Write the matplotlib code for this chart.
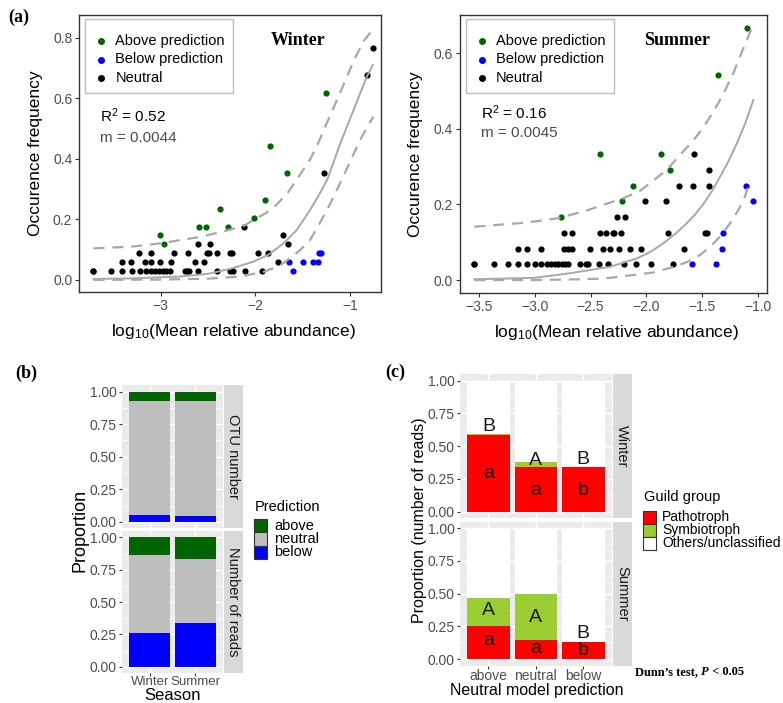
import numpy as np
import matplotlib.pyplot as plt
from matplotlib.patches import Rectangle

plt.rcParams['font.family'] = ['Liberation Sans', 'DejaVu Sans']
plt.rcParams['mathtext.fontset'] = 'custom'
plt.rcParams['mathtext.rm'] = 'Liberation Sans'
plt.rcParams['mathtext.it'] = 'Liberation Sans:italic'
plt.rcParams['mathtext.bf'] = 'Liberation Sans:bold'

# ---------------- data: panel (a), winter ----------------
w_neutral_x = [-3.713, -3.713, -3.529, -3.406, -3.307, -3.219, -3.155, -3.102, -3.060, -3.018,
               -2.979, -2.944, -2.901, -2.743, -2.718, -2.697, -2.601, -2.407, -2.266, -2.238,
               -2.108, -1.931,
               -3.413, -3.314, -3.166, -3.106, -3.007, -2.891, -2.637, -2.541, -1.755,
               -3.229, -3.106, -2.855, -2.707, -2.513, -2.489, -2.400, -2.266, -2.249, -1.966, -1.861,
               -2.601, -2.478, -1.656,
               -1.702, -2.118, -1.272, -0.820, -0.757]
w_neutral_y = [0.029] * 22 + [0.059] * 9 + [0.088] * 11 + [0.118] * 3 + \
              [0.147, 0.176, 0.353, 0.676, 0.765]
w_above_x = [-2.961, -3.007, -2.591, -2.524, -2.291, -2.009, -2.372, -1.892, -1.667, -1.843, -1.254]
w_above_y = [0.118, 0.147, 0.176, 0.176, 0.176, 0.206, 0.235, 0.265, 0.353, 0.441, 0.618]
w_below_x = [-1.596, -1.638, -1.490, -1.384, -1.332, -1.321, -1.307]
w_below_y = [0.029, 0.059, 0.059, 0.059, 0.059, 0.088, 0.088]

w_fit_x = [-3.71, -3.3, -2.8, -2.5, -2.27, -2.02, -1.86, -1.70, -1.56, -1.42, -1.33, -1.24,
           -1.17, -1.10, -1.03, -0.96, -0.89, -0.82, -0.757]
w_fit_y = [0.003, 0.005, 0.011, 0.020, 0.036, 0.060, 0.083, 0.121, 0.165, 0.231, 0.278, 0.330,
           0.390, 0.451, 0.507, 0.561, 0.617, 0.671, 0.710]
w_up_x = [-3.71, -3.3, -3.0, -2.58, -2.3, -2.11, -2.01, -1.90, -1.80, -1.65, -1.50, -1.42,
          -1.35, -1.24, -1.17, -1.10, -0.95, -0.85, -0.75]
w_up_y = [0.104, 0.110, 0.121, 0.142, 0.163, 0.180, 0.200, 0.218, 0.240, 0.290, 0.360, 0.398,
          0.440, 0.520, 0.570, 0.620, 0.730, 0.790, 0.830]
w_lo_x = [-3.71, -3.0, -2.5, -2.16, -1.91, -1.75, -1.63, -1.52, -1.42, -1.33, -1.24, -1.15,
          -1.07, -0.98, -0.89, -0.82, -0.75]
w_lo_y = [0.000, 0.001, 0.004, 0.011, 0.027, 0.045, 0.072, 0.100, 0.132, 0.180, 0.231, 0.288,
          0.341, 0.402, 0.462, 0.503, 0.539]

# ---------------- data: panel (a), summer ----------------
s_neutral_x = [-3.545, -3.545, -3.368, -3.245, -3.150, -3.069, -3.000, -2.946, -2.895, -2.856,
               -2.820, -2.790, -2.760, -2.731, -2.701, -2.596, -2.545, -2.527, -2.422, -2.341,
               -2.201, -2.093, -1.961, -1.757,
               -3.150, -3.069, -2.946, -2.737, -2.701, -2.665, -2.506, -2.386, -2.326, -2.246,
               -2.147, -2.051, -1.662,
               -2.737, -2.665, -2.416, -2.365, -2.302, -2.287, -2.231, -1.808, -1.473, -1.458,
               -2.260, -2.192,
               -2.012, -1.826,
               -1.707, -1.578, -1.434,
               -1.437, -1.572]
s_neutral_y = [0.042] * 24 + [0.083] * 13 + [0.125] * 10 + [0.167] * 2 + [0.208] * 2 + \
              [0.250] * 3 + [0.292, 0.333]
s_above_x = [-2.769, -2.216, -2.117, -1.787, -2.416, -1.871, -1.353, -1.093]
s_above_y = [0.167, 0.208, 0.250, 0.292, 0.333, 0.333, 0.542, 0.667]
s_below_x = [-1.593, -1.377, -1.323, -1.308, -1.039, -1.105]
s_below_y = [0.042, 0.042, 0.083, 0.125, 0.208, 0.250]

s_fit_x = [-3.545, -3.0, -2.685, -2.326, -2.086, -1.960, -1.847, -1.740, -1.637, -1.560, -1.487,
           -1.410, -1.337, -1.260, -1.187, -1.110, -1.038]
s_fit_y = [0.002, 0.006, 0.018, 0.035, 0.057, 0.075, 0.097, 0.122, 0.150, 0.174, 0.201,
           0.235, 0.273, 0.315, 0.361, 0.415, 0.476]
s_up_x = [-3.545, -3.075, -2.805, -2.566, -2.386, -2.200, -2.056, -1.937, -1.816, -1.697, -1.592,
          -1.493, -1.391, -1.301, -1.218, -1.143, -1.053]
s_up_y = [0.141, 0.152, 0.163, 0.181, 0.199, 0.217, 0.236, 0.263, 0.291, 0.331, 0.364,
          0.401, 0.448, 0.496, 0.547, 0.602, 0.666]
s_lo_x = [-3.545, -3.0, -2.6, -2.386, -2.236, -1.937, -1.757, -1.637, -1.517, -1.427, -1.337,
          -1.247, -1.173, -1.113, -1.068]
s_lo_y = [0.000, 0.000, 0.002, 0.004, 0.009, 0.020, 0.035, 0.047, 0.066, 0.088, 0.115,
          0.150, 0.185, 0.221, 0.265]

# ---------------- data: panel (b) ----------------
seasons = ['Winter', 'Summer']
otu_below = [0.051, 0.044]
otu_neutral = [0.874, 0.887]
otu_above = [0.075, 0.069]
reads_below = [0.259, 0.338]
reads_neutral = [0.608, 0.493]
reads_above = [0.133, 0.169]

# ---------------- data: panel (c) ----------------
pred_groups = ['above', 'neutral', 'below']
winter_patho = [0.585, 0.338, 0.338]
winter_symbio = [0.010, 0.039, 0.000]
summer_patho = [0.253, 0.146, 0.130]
summer_symbio = [0.215, 0.353, 0.000]
winter_upper = ['B', 'A', 'B']
winter_lower = ['a', 'a', 'b']
summer_upper = ['A', 'A', 'B']
summer_lower = ['a', 'a', 'b']
winter_upper_y = [0.649, 0.387, 0.400]
winter_lower_y = [0.292, 0.162, 0.162]
summer_upper_y = [0.368, 0.320, 0.197]
summer_lower_y = [0.141, 0.082, 0.064]

W, H = 783, 703
fig = plt.figure(figsize=(W / 100, H / 100), dpi=100)


def box(l, t, r, b):
    return [l / W, 1 - b / H, (r - l) / W, (b - t) / H]


def fx(px):
    return px / W


def fy(py):
    return 1 - py / H


TICK_C = '#4D4D4D'
DARK = '#333333'
LINE_C = '#A8A8A8'
PT_COLORS = [('#006400', 'Above prediction'), ('#0000FF', 'Below prediction'), ('black', 'Neutral')]


def scatter_panel(px_box, neutral, above, below, fit, up, lo, xlim, ylim, xticks, xlabels,
                  yticks, ylabels, title, title_xy, r2, m, r2_xy, m_xy):
    l, t, r, b = px_box
    ax = fig.add_axes(box(l, t, r, b))
    ax.scatter(neutral[0], neutral[1], s=20, color='black', lw=0, zorder=2)
    ax.scatter(above[0], above[1], s=20, color='#006400', lw=0, zorder=2)
    ax.scatter(below[0], below[1], s=20, color='#0000FF', lw=0, zorder=2)
    ax.plot(fit[0], fit[1], color=LINE_C, lw=1.4, zorder=3)
    ax.plot(up[0], up[1], color=LINE_C, lw=1.6, ls=(0, (5, 3.5)), zorder=3)
    ax.plot(lo[0], lo[1], color=LINE_C, lw=1.6, ls=(0, (5, 3.5)), zorder=3)
    ax.set_xlim(*xlim)
    ax.set_ylim(*ylim)
    ax.set_xticks(xticks)
    ax.set_xticklabels(xlabels)
    ax.set_yticks(yticks)
    ax.set_yticklabels(ylabels)
    ax.tick_params(colors=DARK, labelcolor=TICK_C, labelsize=10, length=3, width=0.8, pad=2)
    for s in ax.spines.values():
        s.set_color(DARK)
        s.set_linewidth(1.0)
    ax.set_ylabel('Occurence frequency', fontsize=12.5)
    ax.yaxis.set_label_coords(-0.12, 0.5)
    ax.set_xlabel('log$_{10}$(Mean relative abundance)', fontsize=12.5)
    ax.xaxis.set_label_coords(0.51, -0.106)
    ax.text(title_xy[0], title_xy[1], title, transform=ax.transAxes, ha='center', va='center',
            fontsize=13, fontweight='bold', family='Liberation Serif')
    ax.text(r2_xy[0], r2_xy[1], r2, transform=ax.transAxes, ha='left', va='center', fontsize=11)
    ax.text(m_xy[0], m_xy[1], m, transform=ax.transAxes, ha='left', va='center', fontsize=11,
            color=TICK_C)
    # legend drawn by hand: box, point keys and labels
    lx, ly = l + 6, t + 4
    fig.add_artist(Rectangle((fx(lx), fy(ly + 74)), 148 / W, 74 / H, transform=fig.transFigure,
                             facecolor='white', edgecolor='#BEBEBE', lw=1.0, zorder=5))
    for i, (c, lab) in enumerate(PT_COLORS):
        ry = ly + 22 + i * 18.5
        fig.add_artist(plt.Line2D([fx(lx + 16)], [fy(ry)], transform=fig.transFigure, ls='none',
                                  marker='o', ms=4, color=c, zorder=6))
        fig.text(fx(lx + 30), fy(ry), lab, ha='left', va='center', fontsize=10.5, zorder=6)
    return ax


scatter_panel((79.3, 15, 381, 292.3), (w_neutral_x, w_neutral_y), (w_above_x, w_above_y),
              (w_below_x, w_below_y), (w_fit_x, w_fit_y), (w_up_x, w_up_y), (w_lo_x, w_lo_y),
              (-3.86, -0.67), (-0.041, 0.875), [-3, -2, -1], ['\u22123', '\u22122', '\u22121'],
              [0, 0.2, 0.4, 0.6, 0.8], ['0.0', '0.2', '0.4', '0.6', '0.8'],
              'Winter', (0.724, 0.907), 'R$^2$ = 0.52', 'm = 0.0044', (0.069, 0.636), (0.069, 0.557))

scatter_panel((460, 15, 766.7, 293.3), (s_neutral_x, s_neutral_y), (s_above_x, s_above_y),
              (s_below_x, s_below_y), (s_fit_x, s_fit_y), (s_up_x, s_up_y), (s_lo_x, s_lo_y),
              (-3.673, -0.918), (-0.035, 0.701), [-3.5, -3.0, -2.5, -2.0, -1.5, -1.0],
              ['\u22123.5', '\u22123.0', '\u22122.5', '\u22122.0', '\u22121.5', '\u22121.0'],
              [0, 0.2, 0.4, 0.6], ['0.0', '0.2', '0.4', '0.6'],
              'Summer', (0.7065, 0.908), 'R$^2$ = 0.16', 'm = 0.0045', (0.068, 0.649), (0.068, 0.575))


def facet_axes(rect, strip_rect, strip_text, n, show_x):
    ax = fig.add_axes(rect)
    ax.set_facecolor('#EBEBEB')
    for s in ax.spines.values():
        s.set_visible(False)
    ax.set_xlim(0.4, n + 0.6)
    ax.set_ylim(-0.05, 1.05)
    ax.set_yticks([0, 0.25, 0.5, 0.75, 1.0])
    ax.set_yticklabels(['0.00', '0.25', '0.50', '0.75', '1.00'])
    ax.set_yticks([0.125, 0.375, 0.625, 0.875], minor=True)
    ax.set_xticks(np.arange(1, n + 1))
    ax.grid(True, which='major', color='white', lw=1.0)
    ax.grid(True, which='minor', axis='y', color='white', lw=0.5)
    ax.set_axisbelow(True)
    ax.tick_params(which='major', colors=DARK, labelcolor=TICK_C, labelsize=10, length=2.5,
                   width=0.8, pad=1.5)
    ax.tick_params(axis='x', length=2, pad=0.5)
    ax.tick_params(which='minor', length=0)
    if not show_x:
        ax.tick_params(axis='x', length=0, labelbottom=False)
    sax = fig.add_axes(strip_rect)
    sax.set_facecolor('#D9D9D9')
    sax.set_xticks([])
    sax.set_yticks([])
    for s in sax.spines.values():
        s.set_visible(False)
    sax.text(0.5, 0.5, strip_text, rotation=270, ha='center', va='center', fontsize=10.5,
             color='#1A1A1A', transform=sax.transAxes)
    return ax


# ---------------- panel (b) ----------------
b_top = facet_axes(box(122.3, 385, 222.7, 528.3), box(223.7, 385, 242.7, 528.3), 'OTU number', 2, False)
b_bot = facet_axes(box(122.3, 531, 222.7, 673.3), box(223.7, 531, 242.7, 673.3), 'Number of reads', 2, True)
xb = np.arange(1, 3)
for ax, below, neutral, above in [(b_top, otu_below, otu_neutral, otu_above),
                                  (b_bot, reads_below, reads_neutral, reads_above)]:
    ax.bar(xb, below, width=0.9, color='#0000FF')
    ax.bar(xb, neutral, width=0.9, bottom=below, color='#BEBEBE')
    ax.bar(xb, above, width=0.9, bottom=np.add(below, neutral), color='#006400')
b_bot.set_xticklabels(seasons)
b_bot.tick_params(axis='x', labelsize=9.5, pad=0)
fig.text(fx(80), fy(530), 'Proportion', rotation=90, ha='center', va='center', fontsize=13)
fig.text(fx(172.5), fy(699.5), 'Season', ha='center', va='baseline', fontsize=12)

fig.text(fx(255), fy(507), 'Prediction', ha='left', va='center', fontsize=10.5)
for i, (c, lab) in enumerate([('#006400', 'above'), ('#BEBEBE', 'neutral'), ('#0000FF', 'below')]):
    top = 519 + i * 13.4
    fig.add_artist(Rectangle((fx(254), fy(top + 13.2)), 12.7 / W, 13.2 / H, transform=fig.transFigure,
                             facecolor=c, edgecolor='#333333', lw=0.8))
    fig.text(fx(274), fy(top + 6.6), lab, ha='left', va='center', fontsize=10.5)

# ---------------- panel (c) ----------------
c_top = facet_axes(box(460, 374, 611.7, 518.3), box(612.7, 374, 631.7, 518.3), 'Winter', 3, False)
c_bot = facet_axes(box(460, 521.7, 611.7, 665.7), box(612.7, 521.7, 631.7, 665.7), 'Summer', 3, True)
xc = np.arange(1, 4)
for ax, patho, symbio, up_lab, lo_lab, up_y, lo_y in [
        (c_top, winter_patho, winter_symbio, winter_upper, winter_lower, winter_upper_y, winter_lower_y),
        (c_bot, summer_patho, summer_symbio, summer_upper, summer_lower, summer_upper_y, summer_lower_y)]:
    others = 1 - np.add(patho, symbio)
    ax.bar(xc, patho, width=0.9, color='#FF0000')
    ax.bar(xc, symbio, width=0.9, bottom=patho, color='#9ACD32')
    ax.bar(xc, others, width=0.9, bottom=np.add(patho, symbio), color='white')
    for i in range(3):
        ax.text(xc[i], up_y[i], up_lab[i], ha='center', va='center', fontsize=14, color='#1A1A1A')
        ax.text(xc[i], lo_y[i], lo_lab[i], ha='center', va='center', fontsize=14, color='#1A1A1A')
c_bot.set_xticklabels(pred_groups)
fig.text(fx(419.3), fy(520), 'Proportion (number of reads)', rotation=90, ha='center', va='center',
         fontsize=11.5)
fig.text(fx(536.5), fy(690.5), 'Neutral model prediction', ha='center', va='center', fontsize=11.5)

fig.text(fx(644), fy(497), 'Guild group', ha='left', va='center', fontsize=10.5)
for i, (c, lab) in enumerate([('#FF0000', 'Pathotroph'), ('#9ACD32', 'Symbiotroph'),
                              ('white', 'Others/unclassified')]):
    top = 510.7 + i * 13.1
    fig.add_artist(Rectangle((fx(643.3), fy(top + 12.9)), 12.7 / W, 12.9 / H, transform=fig.transFigure,
                             facecolor=c, edgecolor='#333333', lw=0.8))
    fig.text(fx(662), fy(top + 6.5), lab, ha='left', va='center', fontsize=10)

# panel tags
for lab, px, py in [('(a)', 8, 17), ('(b)', 15, 373), ('(c)', 385, 372)]:
    fig.text(fx(px), fy(py), lab, ha='left', va='center', fontsize=13, fontweight='bold',
             family='Liberation Serif')

# Dunn's test note, with italic P
renderer = fig.canvas.get_renderer()
x0 = fx(635)
for piece, style in [('Dunn\u2019s test, ', 'normal'), ('P', 'italic'), (' < 0.05', 'normal')]:
    t = fig.text(x0, fy(672), piece, ha='left', va='center', fontsize=9, fontweight='bold',
                 fontstyle=style, family='Liberation Serif')
    bb = t.get_window_extent(renderer)
    x0 += bb.width / W

fig.savefig('out.png', dpi=100)
